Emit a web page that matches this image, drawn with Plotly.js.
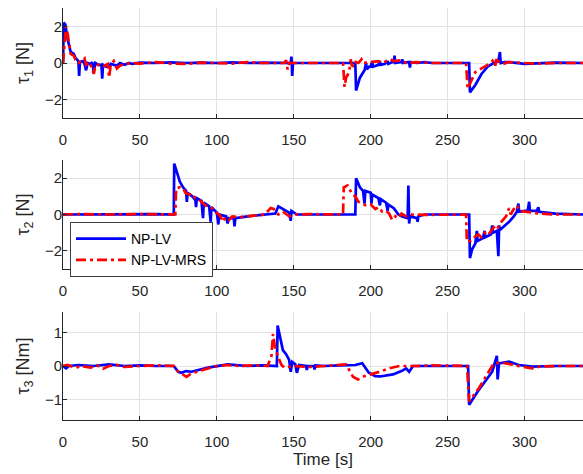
<!DOCTYPE html>
<html>
<head>
<meta charset="utf-8">
<script src="https://cdn.plot.ly/plotly-3.0.1.min.js"></script>
<style>html,body{margin:0;padding:0;background:#fff;}#chart{width:583px;height:474px;}</style>
</head>
<body>
<div id="chart"></div>
<script>
// Series names
const seriesNames = ['NP-LV', 'NP-LV-MRS'];
const yTitles = ['τ<sub>1</sub> [N]', 'τ<sub>2</sub> [N]', 'τ<sub>3</sub> [Nm]'];
const xTitle = 'Time [s]';
const xTicks = [0, 50, 100, 150, 200, 250, 300];

// tau1 [time, value]
const tau1_lv = [[0,0],[0.5,2.2],[1.5,2.1],[3,1.3],[5,0.6],[7,0.5],[8,0.3],[9,0.2],[10,0.1],[10.5,-0.7],[11,0.05],[13,0.1],[14,-0.05],[15,-0.4],[16,0],[18,-0.05],[19,0.05],[20,-0.5],[21,0],[23,-0.1],[25,-0.1],[25.5,-0.85],[26,-0.1],[28,-0.2],[30,-0.2],[31,-0.05],[33,-0.1],[35,-0.15],[37,0],[40,-0.1],[43,0],[45,-0.05],[50,0.02],[60,0],[70,0.03],[80,0],[90,0.02],[100,0],[110,0.03],[120,0],[130,0.02],[140,0],[147,0],[148,0],[148.5,0.35],[149,-0.7],[149.5,0],[152,0],[160,0],[170,0.02],[180,0],[190,0],[190.5,-1.5],[193,-0.8],[196,-0.4],[197,0],[197.5,-0.35],[199,-0.2],[200,-0.2],[201,0.1],[201.5,-0.2],[204,-0.1],[205,-0.1],[206,0.1],[206.5,-0.1],[209,-0.05],[210,0],[211,0.1],[211.5,-0.05],[214,0.05],[215,0.05],[215.5,0.4],[216,0],[219,0.05],[220,0.05],[220.5,0.2],[221,0],[224,0.05],[225,0.05],[225.5,-0.25],[226,0.05],[230,0],[235,0.05],[240,0],[250,0],[260,0],[264,0],[264.5,-1.6],[268,-1.2],[272,-0.6],[276,-0.2],[280,0],[283,0.1],[284,0.6],[284.5,0],[287,0.05],[290,0.05],[300,-0.05],[310,0],[320,0.02],[338,0]];
const tau1_mrs = [[0,0],[1,1.0],[2,2.0],[3,1.6],[4,1.0],[5,0.5],[7,0.4],[8,0.2],[10,0],[12,0.1],[14,0.25],[15,-0.1],[17,0.05],[19,-0.3],[20,-0.6],[21,-0.1],[24,-0.1],[26,-0.2],[29,-0.05],[30,-0.8],[31,-0.1],[33,0.1],[35,-0.3],[37,-0.15],[40,-0.05],[45,0],[50,-0.03],[60,0.05],[70,-0.03],[80,-0.05],[90,0.02],[100,0],[110,-0.03],[120,0.05],[130,0],[140,0],[144,0],[145,0.15],[146,-0.35],[147,0],[160,0],[170,0.02],[182,0],[183,-1.3],[184,-0.8],[186,-0.5],[187,0.2],[188,-0.3],[189,0.1],[192,0],[194,0.2],[195,0],[200,0.05],[205,0.1],[208,0],[210,0.1],[213,0.2],[215,0.1],[220,0.15],[223,0],[230,0.05],[240,0],[250,0],[262,0],[263,-1.4],[266,-0.9],[268,-0.5],[270,-0.4],[274,-0.2],[278,0],[280,0.2],[281,-0.15],[282,0.3],[283,0.1],[286,-0.05],[290,0.05],[300,0],[310,-0.03],[320,0],[338,0]];

// tau2 [time, value]
const tau2_lv = [[0,0],[20,0.02],[40,0],[60,0.02],[72,0],[72.3,2.8],[76,1.8],[78,1.5],[80,1.3],[80.5,0.7],[81,1.2],[84,1.0],[86,0.8],[86.5,0.4],[87,0.9],[90,0.75],[91,-0.2],[91.5,0.65],[95,0.45],[96,-0.4],[96.5,0.4],[100,0.1],[101,-0.55],[101.5,0],[106,-0.1],[107,-0.5],[107.5,-0.2],[111,-0.2],[111.5,-0.65],[112,-0.2],[120,-0.1],[130,0],[138,0.05],[140,0.45],[144,0.25],[147,0.1],[148,-0.35],[148.5,0.2],[152,0],[160,0],[170,0.02],[180,0],[190,0],[190.5,2.0],[193,1.5],[195,1.3],[196,0.6],[196.5,1.3],[200,1.2],[200.5,0.6],[201,1.1],[205,0.9],[206,0.5],[206.5,0.85],[210,0.65],[211,0.2],[211.5,0.55],[215,0.35],[218,0],[220,-0.1],[224,-0.2],[224.5,1.6],[225,-0.5],[225.5,-0.1],[230,-0.2],[230.5,-0.4],[231,-0.1],[235,0],[240,0],[250,0.02],[264,0],[264.5,-2.4],[266,-1.9],[268,-1.6],[269,-0.9],[269.5,-1.45],[273,-1.3],[274,-0.9],[274.5,-1.25],[278,-1.1],[279,-0.6],[279.5,-1.0],[282,-0.9],[283,-2.3],[283.5,-0.6],[284,-0.85],[286,-0.7],[290,-0.4],[293,-0.1],[295,0.15],[296,0.6],[296.5,0.15],[300,0.2],[302,0.2],[303,0.7],[303.5,0.2],[308,0.2],[309,0.4],[309.5,0.15],[315,0.1],[320,0.05],[338,0]];
const tau2_mrs = [[0,0],[10,0.02],[30,0],[50,0.02],[73,0],[73.5,1.43],[76,1.5],[78,1.45],[79.5,1.2],[82,1.1],[84,1.15],[86,0.9],[88,0.85],[90,0.7],[92.5,0.5],[95,0.4],[97,0.35],[99,0.15],[102,-0.05],[104,-0.4],[105.5,-0.15],[108,-0.3],[110,-0.1],[115,-0.15],[121,-0.1],[126,-0.05],[131,0],[135,0.35],[137,0.3],[140,0],[143,0.15],[147,-0.1],[150,0],[160,0.02],[170,0],[182,0],[182.5,1.5],[185,1.6],[188,1.1],[190,1.0],[192,0.7],[194.6,0.6],[197,0.5],[200,0.55],[203,0.3],[205,0.4],[207.6,0.15],[210,0.2],[212,0.05],[214,-0.3],[216,-0.1],[218,-0.2],[220,0.05],[223,-0.1],[226,0],[235,-0.02],[245,0],[262,0],[262.5,-1.5],[265,-1.45],[268,-1.2],[270,-1.1],[272,-1.25],[274,-1.0],[276,-1.15],[278,-0.9],[280,-0.7],[282,-0.85],[284,-0.5],[286,-0.3],[288,-0.1],[290,0.35],[291,0.0],[293,0.3],[295,0.5],[297,0.2],[301,0.15],[305,0.1],[310,0.05],[320,0],[338,0]];

// tau3 [time, value]
const tau3_lv = [[0,0],[2,-0.07],[4,0],[10,0.03],[20,0],[30,0.05],[40,0],[50,0.02],[60,0],[72,0],[74.9,-0.17],[77,-0.2],[80,-0.15],[83.5,-0.17],[94.3,-0.05],[100,0],[107,0.05],[120,0],[130,0.02],[139,0],[139.5,1.2],[140.7,0.95],[142.9,0.47],[145,0.35],[147,0.18],[148,-0.17],[149,0.12],[151,0.05],[152,-0.2],[153.5,0.03],[158,0],[158.5,-0.12],[159,0],[163,0],[163.5,-0.1],[164,0.02],[170,0],[180,0.02],[190,0.03],[194.5,0.08],[198.8,-0.2],[203,-0.3],[206,-0.31],[214.5,-0.25],[220,-0.15],[223,-0.07],[225,-0.17],[227.5,0],[240,0],[250,0],[263.3,0],[264,-1.15],[270.4,-0.7],[279,-0.17],[282,0.3],[282.5,-0.4],[283.4,0.08],[290,0.13],[296.3,0.03],[305,-0.02],[320,0],[338,0]];
const tau3_mrs = [[0,0],[3,0.03],[8,-0.05],[12,0],[18,-0.05],[22,0.02],[26,-0.08],[30,0],[35,0.03],[40,-0.03],[50,0],[60,0.02],[72,0],[74.9,-0.17],[80.3,-0.32],[83.5,-0.22],[94.3,-0.07],[100,0],[107,0.03],[115,0],[125,0.02],[133,0],[135.5,0.3],[136.5,0.95],[137.6,0.6],[139.8,0.27],[142,0.03],[144,-0.05],[150,0],[160,-0.03],[170,0],[184,0.05],[188.5,-0.32],[191.7,-0.4],[196,-0.3],[200,-0.25],[205.8,-0.17],[212,-0.07],[218.6,0],[230,0],[240,0.02],[262.6,0],[264,-1.05],[270.4,-0.65],[277,-0.12],[280,0.08],[285.5,0.1],[292,0.03],[298.5,-0.02],[305,-0.07],[309.5,-0.02],[320,0],[338,0]];

const panels = [[tau1_lv, tau1_mrs], [tau2_lv, tau2_mrs], [tau3_lv, tau3_mrs]];
const yRanges = [[-3, 3], [-3, 3], [-1.6, 1.6]];
const yTicks = [[-2, 0, 2], [-2, 0, 2], [-1, 0, 1]];

const W = 583, H = 474, mt = 8, mb = 54, ml = 63, mr = 0;
const ph = H - mt - mb;
const pix = [[8, 118], [160, 269], [312, 420]];
const colors = ['#0000ff', '#ff0000'];
const dashes = ['solid', '10px,4px,3px,4px'];
const FAM = 'Liberation Sans, Arial, Helvetica, sans-serif';

const traces = [];
panels.forEach((pair, i) => {
  pair.forEach((s, j) => {
    traces.push({
      x: s.map(p => p[0]), y: s.map(p => p[1]),
      type: 'scatter', mode: 'lines',
      name: seriesNames[j],
      showlegend: i === 1,
      line: {color: colors[j], width: 2.7, dash: dashes[j]},
      xaxis: i === 0 ? 'x' : 'x' + (i + 1),
      yaxis: i === 0 ? 'y' : 'y' + (i + 1),
      hoverinfo: 'skip'
    });
  });
});

const layout = {
  width: W, height: H,
  margin: {l: ml, r: mr, t: mt, b: mb, pad: 0},
  paper_bgcolor: '#fff', plot_bgcolor: '#fff',
  font: {family: FAM, size: 15, color: '#262626'},
  showlegend: true,
  legend: {
    x: (70 - ml) / (W - ml - mr), y: 1 - (222 - mt) / ph,
    xanchor: 'left', yanchor: 'top',
    bgcolor: '#fff', bordercolor: '#404040', borderwidth: 1,
    font: {family: FAM, size: 14, color: '#000'},
    itemwidth: 50, tracegroupgap: 0
  }
};
pix.forEach((p, i) => {
  const sfx = i === 0 ? '' : String(i + 1);
  const dom = [1 - (p[1] - mt) / ph, 1 - (p[0] - mt) / ph];
  const xa = {
    domain: [0, 1], range: [0, 338], anchor: 'y' + sfx,
    tickvals: xTicks, ticks: 'inside', ticklen: 4, tickcolor: '#262626',
    showline: true, linecolor: '#262626', linewidth: 1,
    showgrid: true, gridcolor: '#e3e3e3', gridwidth: 1, zeroline: false,
    ticklabelstandoff: 8,
    tickfont: {family: FAM, size: 15, color: '#262626'}
  };
  if (i === 2) xa.title = {text: xTitle, font: {family: FAM, size: 17, color: '#262626'}, standoff: 4};
  layout['xaxis' + sfx] = xa;
  layout['yaxis' + sfx] = {
    domain: dom, range: yRanges[i], anchor: 'x' + sfx,
    tickvals: yTicks[i], ticks: 'inside', ticklen: 4, tickcolor: '#262626',
    showline: true, linecolor: '#262626', linewidth: 1,
    showgrid: true, gridcolor: '#e3e3e3', gridwidth: 1, zeroline: false,
    ticklabelstandoff: -3,
    tickfont: {family: FAM, size: 15, color: '#262626'},
    title: {text: yTitles[i], font: {family: FAM, size: 18, color: '#262626'}, standoff: 10}
  };
});

Plotly.newPlot('chart', traces, layout, {displayModeBar: false, staticPlot: true});
</script>
</body>
</html>
